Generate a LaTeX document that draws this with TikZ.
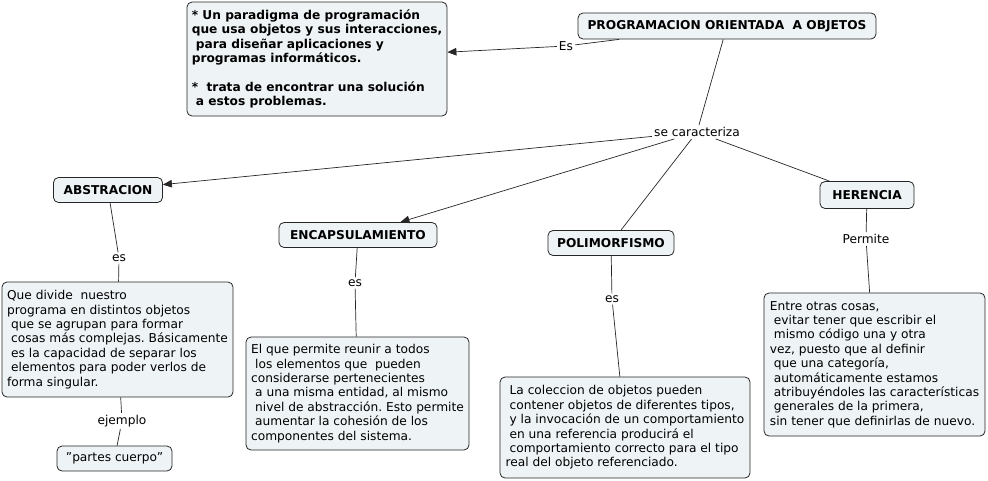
\documentclass[tikz,border=0pt]{standalone}
\usepackage{fontspec}
\setmainfont{DejaVu Sans}
\usetikzlibrary{positioning,arrows.meta}
\definecolor{cmapfill}{RGB}{238,243,245}
\newcommand{\indsp}{\hspace*{0.33em}}
\frenchspacing
\tikzset{
concept/.style={draw=black!85,fill=cmapfill,rounded corners=5pt,line width=0.8pt,inner sep=0pt,align=left,font=\fontsize{12.2}{14.4}\selectfont},
keyconcept/.style={concept,font=\fontsize{12.2}{14.4}\selectfont\bfseries},
linkword/.style={inner sep=2pt,font=\fontsize{12.2}{14}\selectfont},
conn/.style={draw=black!85,line width=0.7pt},
arr/.style={conn,-{Triangle[length=9pt,width=7.5pt]}}
}
\begin{document}
\begin{tikzpicture}[x=1pt,y=-1pt]
\useasboundingbox (0,0) rectangle (988,480);

\node[keyconcept,minimum width=298,minimum height=26] (poo) at (727,26) {PROGRAMACION ORIENTADA\ \ A OBJETOS};
\node[keyconcept,minimum width=260,minimum height=114] (defi) at (317,59) {* Un paradigma de programación\\que usa objetos y sus interacciones,\\\indsp para diseñar aplicaciones y\\programas informáticos.\\[14.4pt]*\ \ trata de encontrar una solución\\\indsp a estos problemas.};
\node[linkword] (es) at (566,46) {Es};
\node[linkword] (carac) at (697,132) {se caracteriza};

\node[keyconcept,minimum width=109,minimum height=25] (abst) at (108,190) {ABSTRACION};
\node[keyconcept,minimum width=158,minimum height=25] (encap) at (358,235) {ENCAPSULAMIENTO};
\node[keyconcept,minimum width=126,minimum height=25] (poli) at (611,243) {POLIMORFISMO};
\node[keyconcept,minimum width=94,minimum height=27] (her) at (867,195) {HERENCIA};

\node[linkword] (esabst) at (119,258) {es};
\node[linkword] (esencap) at (355,283) {es};
\node[linkword] (espoli) at (612,299) {es};
\node[linkword] (permite) at (866,239) {Permite};
\node[linkword] (ejemplo) at (122,421) {ejemplo};

\node[concept,minimum width=231,minimum height=115] (txtabst) at (117.5,339.5) {Que divide\ \ nuestro\\programa en distintos objetos\\\indsp que se agrupan para formar\\\indsp cosas más complejas. Básicamente\\\indsp es la capacidad de separar los\\\indsp elementos para poder verlos de\\forma singular.};
\node[concept,minimum width=223,minimum height=113] (txtencap) at (357.5,393.5) {El que permite reunir a todos\\\indsp los elementos que\ \ pueden\\considerarse pertenecientes\\\indsp a una misma entidad, al mismo\\\indsp nivel de abstracción. Esto permite\\\indsp aumentar la cohesión de los\\componentes del sistema.};
\node[concept,minimum width=250,minimum height=101] (txtpoli) at (625,427.5) {\indsp La coleccion de objetos pueden\\\indsp contener objetos de diferentes tipos,\\\indsp y la invocación de un comportamiento\\\indsp en una referencia producirá el\\\indsp comportamiento correcto para el tipo\\real del objeto referenciado.};
\node[concept,minimum width=221,minimum height=143] (txther) at (874.5,364.5) {Entre otras cosas,\\\indsp evitar tener que escribir el\\\indsp mismo código una y otra\\vez, puesto que al definir\\\indsp que una categoría,\\\indsp automáticamente estamos\\\indsp atribuyéndoles las características\\\indsp generales de la primera,\\sin tener que definirlas de nuevo.};
\node[concept,minimum width=115,minimum height=25] (partes) at (114.5,458.5) {”partes cuerpo”};

\draw[conn] (poo) -- (es);
\draw[arr] (es) -- (defi);
\draw[conn] (poo) -- (carac);
\draw[arr] (carac) -- (abst);
\draw[arr] (carac) -- (encap);
\draw[conn] (carac) -- (poli);
\draw[conn] (carac) -- (her);

\draw[conn] (abst) -- (esabst);
\draw[conn] (esabst) -- (txtabst);
\draw[conn] (txtabst) -- (ejemplo);
\draw[conn] (ejemplo) -- (partes);
\draw[conn] (encap) -- (esencap);
\draw[conn] (esencap) -- (txtencap);
\draw[conn] (poli) -- (espoli);
\draw[conn] (espoli) -- (txtpoli);
\draw[conn] (her) -- (permite);
\draw[conn] (permite) -- (txther);

\end{tikzpicture}
\end{document}
